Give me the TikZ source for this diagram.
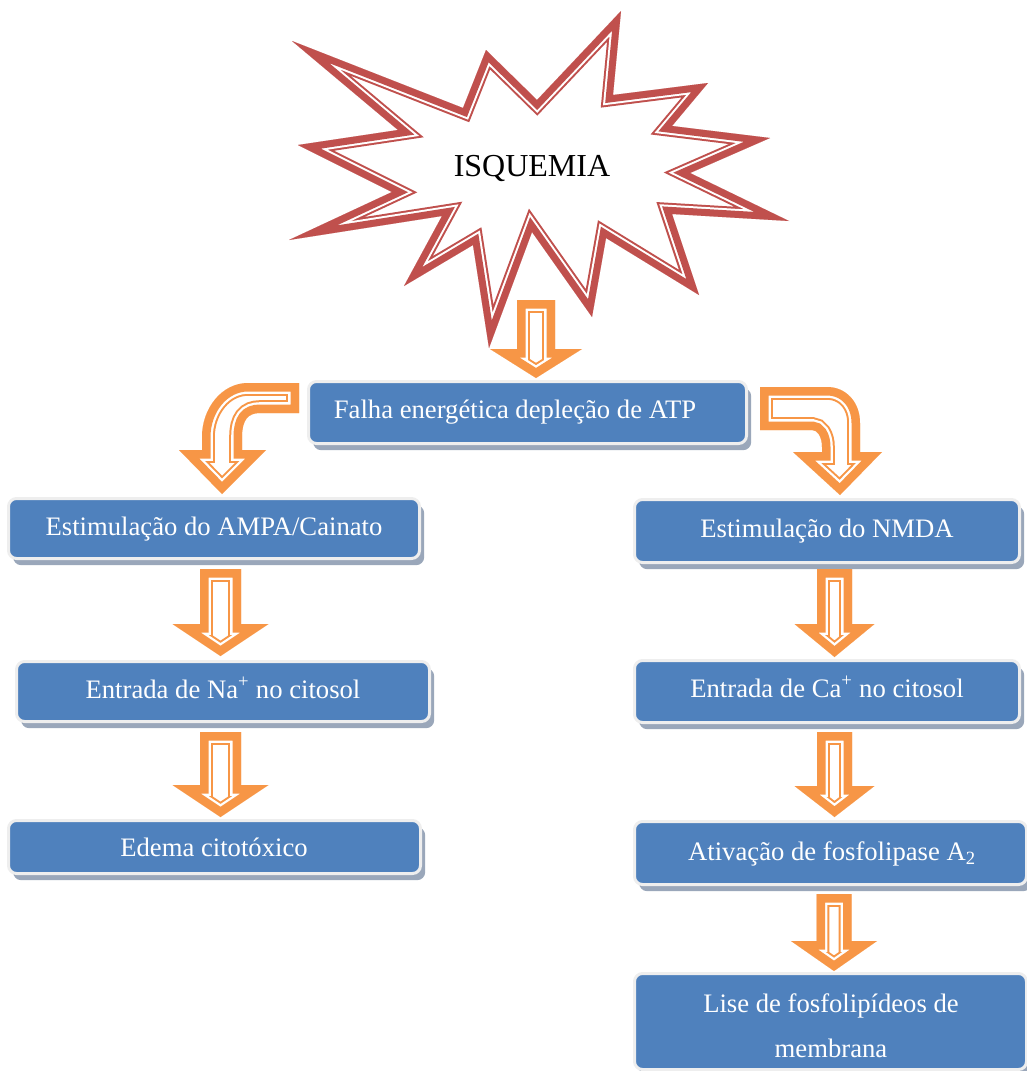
\documentclass[tikz,border=0pt]{standalone}
\usepackage{fontspec}
\setmainfont{Liberation Serif}
\usetikzlibrary{shadows}
\definecolor{arroworange}{HTML}{F79646}
\definecolor{starred}{HTML}{C0504D}
\definecolor{boxblue}{HTML}{4F81BD}
\definecolor{boxedge}{HTML}{EEEEEE}
\definecolor{shadowc}{HTML}{9AA7BA}
\tikzset{
  orna/.style={draw=arroworange, line width=19.2pt, line join=miter},
  ornb/.style={draw=white, line width=16.2pt, line join=miter},
  ornc/.style={draw=arroworange, line width=12.75pt, line join=miter},
  reda/.style={draw=starred, line width=16.5pt, line join=miter},
  redb/.style={draw=white, line width=13.5pt, line join=miter},
  redc/.style={draw=starred, line width=10.5pt, line join=miter},
  bbox/.style={rectangle, rounded corners=6pt, fill=boxblue, draw=boxedge,
    line width=2.25pt, inner sep=0pt, outer sep=0pt,
    general shadow={shadow xshift=3.5pt, shadow yshift=-5pt, fill=shadowc}},
  btext/.style={text=white, font=\fontsize{20}{24}\selectfont, anchor=base, inner sep=0pt},
  startext/.style={text=black, font=\fontsize{24}{28}\selectfont, anchor=base, inner sep=0pt}
}
\newcommand\hollowfill[2]{%
  \begin{scope}
    \clip #2;
    \fill[white] #2;
    \draw[#1a] #2;
    \draw[#1b] #2;
    \draw[#1c] #2;
  \end{scope}}
\newcommand\blockdown[6]{%
  \hollowfill{orn}{({#1-#3},#2) -- ({#1+#3},#2) -- ({#1+#3},#4) -- ({#1+#5},#4) -- (#1,#6) -- ({#1-#5},#4) -- ({#1-#3},#4) -- cycle}}
\newcommand\bluebox[5]{%
  \node[bbox, minimum width={(#4-#2+3)*0.75pt}, minimum height={(#5-#3+3)*0.75pt}] (#1) at ({(#2+#4)/2},{(#3+#5)/2}) {};}
\begin{document}
\begin{tikzpicture}[x=0.75pt, y=-0.75pt]
\useasboundingbox (0,0) rectangle (1027,1071);

% explosion
\hollowfill{red}{(292,41) -- (463,108) -- (486,50) -- (537,100) -- (621,11) -- (613,95) -- (708,83) -- (672,126) -- (770,138) -- (690,173) -- (789,221) -- (672,214) -- (699,295) -- (606,238) -- (592,317) -- (532,232) -- (489,348) -- (473,245) -- (404,286) -- (442,216) -- (289,240) -- (392,192) -- (298,145) -- (398,130) -- cycle}
\node[startext] (isq) at (532,176) {ISQUEMIA};

% arrow below explosion
\blockdown{536}{300}{19}{349}{46}{378}

% boxes
\bluebox{fal}{310}{383}{745}{442}
\bluebox{ampa}{10}{500}{418}{557}
\bluebox{na}{18}{663}{428}{720}
\bluebox{edema}{10}{822}{419}{872}
\bluebox{nmda}{636}{501}{1018}{561}
\bluebox{ca}{636}{662}{1018}{721}
\bluebox{ativ}{636}{823}{1025}{883}
\bluebox{lise}{636}{975}{1025}{1068}

% curved arrows
\hollowfill{orn}{(299,383) -- (248,383) .. controls (222,383) and (202,408) .. (202,437) -- (202,450) -- (179,450) -- (222,494) -- (266,450) -- (242,450) -- (242,437) .. controls (242,420) and (248,413) .. (260,413) -- (299,413) -- cycle}
\hollowfill{orn}{(760,387) -- (827,387) .. controls (846,387) and (860,402) .. (860,423) -- (860,452) -- (882,452) -- (840,495) -- (793,452) -- (822,452) -- (822,447) .. controls (822,436) and (817,430) .. (812,430) -- (760,430) -- cycle}

% straight arrows
\blockdown{220.5}{569}{20.5}{624}{48}{656}
\blockdown{220.5}{732}{20.5}{785}{48}{817}
\blockdown{834.5}{569}{17.5}{624}{40}{657}
\blockdown{834.5}{732}{17.5}{786}{40}{817}
\blockdown{834}{894}{17.5}{941}{43}{971}

% texts
\node[btext] (tfal) at (515,418) {Falha energética depleção de ATP};
\node[btext] (tampa) at (214,535) {Estimulação do AMPA/Cainato};
\node[btext] (tna) at (223,698) {Entrada de Na\textsuperscript{+} no citosol};
\node[btext] (tedema) at (214,856) {Edema citotóxico};
\node[btext] (tnmda) at (827,537) {Estimulação do NMDA};
\node[btext] (tca) at (827,697) {Entrada de Ca\textsuperscript{+} no citosol};
\node[btext] (tativ) at (832,860) {Ativação de fosfolipase A\textsubscript{2}};
\node[btext] (tlise1) at (831,1012) {Lise de fosfolipídeos de};
\node[btext] (tlise2) at (831,1057) {membrana};
\end{tikzpicture}
\end{document}
